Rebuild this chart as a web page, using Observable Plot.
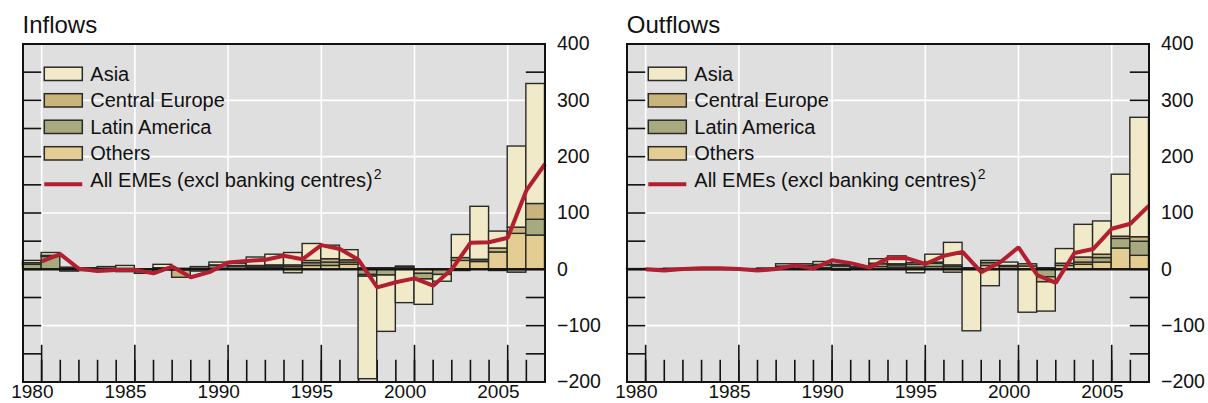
<!DOCTYPE html>
<html><head><meta charset="utf-8">
<script src="https://cdn.jsdelivr.net/npm/d3@7"></script>
<script src="https://cdn.jsdelivr.net/npm/@observablehq/plot@0.6"></script>
<style>
body{margin:0;background:#fff;font-family:"Liberation Sans",Arial,Helvetica,sans-serif;}
#wrap{position:relative;width:1208px;height:403px;overflow:hidden;}
.panel{position:absolute;top:0;width:604px;height:403px;}
.title{position:absolute;left:22.5px;top:13px;font-size:24px;line-height:24px;color:#111;white-space:nowrap;}
</style></head><body><div id="wrap"></div>
<script>
// ---- data ----
const years = [1980,1981,1982,1983,1984,1985,1986,1987,1988,1989,1990,1991,1992,1993,1994,1995,1996,1997,1998,1999,2000,2001,2002,2003,2004,2005,2006,2007];
const seriesNames = ["Others","Latin America","Central Europe","Asia"]; // stacking order (bottom first)
const legendNames = ["Asia","Central Europe","Latin America","Others"];
const lineName = "All EMEs (excl banking centres)";

const inOthers   = [0,0,1,0,0,1,0,2,0,1, 1,1,2,2,-7,6,6,8,2,2, 3,-8,0,15,13,30,63,60];
const inLatAm    = [8,22,-4,-3,-3,-5,-5,-2,-2,-4, 5,4,3,3,4,5,6,4,-10,-11, 0,-10,-10,-3,1,-3,-6,28];
const inCEurope  = [3,2,0,0,1,0,-3,0,-13,0, 1,1,1,2,3,4,6,4,-3,0, 2,0,0,5,3,7,11,28];
const inAsia     = [4,5,2,2,3,5,0,6,1,3, 5,4,15,19,22,30,24,18,-182,-100, -60,-45,-12,41,94,30,144,213];
const inAll      = [14,27,1,-3,-1,-1,-7,5,-14,-5, 12,15,17,24,18,43,36,17,-32,-23, -16,-29,0,47,48,56,140,187];

const outOthers  = [0,0,0,0,0,0,0,0,1,1, 2,-2,0,4,3,3,4,-6,0,6, 4,5,2,6,8,12,37,24];
const outLatAm   = [0.5,0,0.5,1,1,0.5,0.5,0.5,3,4, 5,5,2,5,4,5,6,4,1,5, 2,0,-14,4,4,8,17,25];
const outCEurope = [0,0,0,0,0,0,0,0,1,1, 1,1,0,1,2,3,2,3,1,4, 0,4,-9,0,9,6,4,8];
const outAsia    = [0,0.5,0.5,1,1,0.5,0,1,4,3, 5,2,2,8,14,-7,14,40,-110,-30, 6,-77,-52,26,58,59,110,212];
const outAll     = [0,-2,0.5,2,2,0.5,-2,0.5,7,1.5, 16,11,3,19.5,20,9.5,24,31,-5,12, 39,-10,-24,29,36,72,81,113];

const colors = {"Asia":"#f1eac8","Central Europe":"#cbb47b","Latin America":"#a7a97e","Others":"#e3cd92"};
const lineColor = "#b11f30";

const yDomain = [-200, 400];
const yLabels = [-200,-100,0,100,200,300,400];
const yTicks = [-150,-100,-50,0,50,100,150,200,250,300,350];
const yGrid = [-100,0,100,200,300];
const xDomain = [1979, 2007];
const xMajor = [1980,1985,1990,1995,2000,2005];
const xMinor = [1980,1981,1982,1983,1984,1985,1986,1987,1988,1989,1990,1991,1992,1993,1994,1995,1996,1997,1998,1999,2000,2001,2002,2003,2004,2005,2006];

function tidy(others, latam, ceur, asia) {
  const out = [];
  years.forEach((y, i) => {
    out.push({year: y, series: "Others", value: others[i]});
    out.push({year: y, series: "Latin America", value: latam[i]});
    out.push({year: y, series: "Central Europe", value: ceur[i]});
    out.push({year: y, series: "Asia", value: asia[i]});
  });
  return out;
}
const lineRows = arr => years.map((y, i) => ({year: y, value: arr[i]}));

const W = 604, H = 403, mL = 22.5, mR = 59.5, mT = 43.5, mB = 21.5;
const plotW = W - mL - mR, plotH = H - mT - mB;
const fmt = d => d < 0 ? "\u2212" + Math.abs(d) : String(d);
const FONT = '"Liberation Sans", Arial, Helvetica, sans-serif';

function panel(title, bars, line, left) {
  const div = document.createElement("div");
  div.className = "panel";
  div.style.left = left + "px";
  const svg = Plot.plot({
    width: W, height: H,
    marginLeft: mL, marginRight: mR, marginTop: mT, marginBottom: mB,
    style: {fontFamily: FONT, fontSize: "19.5px", color: "#111", background: "transparent", overflow: "visible"},
    x: {domain: xDomain, label: null},
    y: {domain: yDomain, label: null},
    color: {domain: seriesNames, range: seriesNames.map(s => colors[s])},
    marks: [
      Plot.frame({fill: "#dfdfdf"}),
      Plot.ruleY(yGrid, {stroke: "#fff", strokeWidth: 1.6}),
      Plot.ruleX(xMajor, {stroke: "#fff", strokeWidth: 1.6}),
      Plot.ruleY(yTicks, {stroke: "#111", strokeWidth: 1.6, insetRight: plotW - 18.7}),
      Plot.ruleY(yTicks, {stroke: "#111", strokeWidth: 1.6, insetLeft: plotW - 18.7}),
      Plot.ruleX(xMinor, {stroke: "#111", strokeWidth: 1.6, insetTop: plotH - 21.7}),
      Plot.ruleX(xMajor, {stroke: "#111", strokeWidth: 1.6, insetTop: plotH - 36.7}),
      Plot.rectY(bars, {x1: d => d.year - 1, x2: d => d.year, y: "value", fill: "series", stroke: "#2a2a2a", strokeWidth: 1.4}),
      Plot.ruleY([0], {stroke: "#111", strokeWidth: 2.2}),
      Plot.line(line, {x: "year", y: "value", stroke: lineColor, strokeWidth: 4, strokeLinejoin: "miter", strokeLinecap: "butt"}),
      Plot.frame({stroke: "#111", strokeWidth: 2}),
      Plot.axisY({anchor: "right", ticks: yLabels, tickSize: 0, tickPadding: 12, tickFormat: fmt, label: null}),
      Plot.axisX({ticks: xMajor.map(y => y - 0.5), tickSize: 0, tickPadding: 2, fontSize: "19px", tickFormat: d => String(d + 0.5), label: null})
    ]
  });
  div.appendChild(svg);
  // legend
  const g = d3.select(svg).append("g").attr("font-family", FONT).attr("font-size", "20px")
    .attr("fill", "#111").attr("text-anchor", "start");
  const base0 = 80.7, step = 26.5, sx = 44.3, sw = 38, sh = 13.3, tx = 90.3;
  legendNames.forEach((name, i) => {
    const b = base0 + i * step;
    g.append("rect").attr("x", sx).attr("y", b - sh - 0.2).attr("width", sw).attr("height", sh)
      .attr("fill", colors[name]).attr("stroke", "#2a2a2a").attr("stroke-width", 1.5);
    g.append("text").attr("x", tx).attr("y", b).attr("text-anchor", "start").text(name);
  });
  const bl = base0 + 4 * step;
  g.append("line").attr("x1", sx).attr("x2", sx + sw).attr("y1", bl - 2.4).attr("y2", bl - 2.4)
    .attr("stroke", lineColor).attr("stroke-width", 4);
  const t = g.append("text").attr("x", tx).attr("y", bl).attr("text-anchor", "start");
  t.append("tspan").text(lineName);
  t.append("tspan").attr("font-size", "14px").attr("dx", 1).attr("dy", -8).text("2");
  const ttl = document.createElement("div");
  ttl.className = "title";
  ttl.textContent = title;
  div.appendChild(ttl);
  document.getElementById("wrap").appendChild(div);
}

panel("Inflows", tidy(inOthers, inLatAm, inCEurope, inAsia), lineRows(inAll), 0);
panel("Outflows", tidy(outOthers, outLatAm, outCEurope, outAsia), lineRows(outAll), 604.3);
</script></body></html>
